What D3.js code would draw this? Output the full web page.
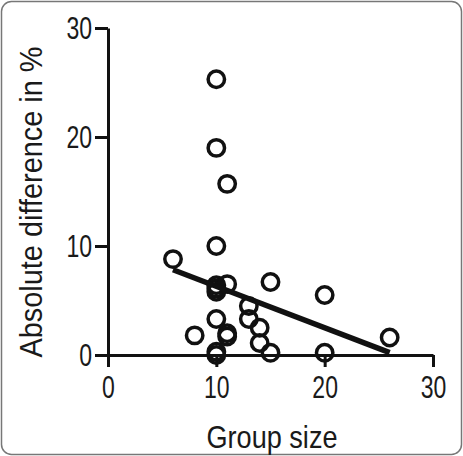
<!DOCTYPE html>
<html><head><meta charset="utf-8">
<script src="https://cdn.jsdelivr.net/npm/d3@7"></script>
<style>body{margin:0;background:#fff}svg{display:block}</style>
</head><body>
<svg id="c" width="463" height="456"></svg>
<script>
const groupSize = [10,10,11,10,6,10,10,10,11,15,20,13,13,10,14,11,11,8,14,15,10,10,20,26];
const absDiff   = [25.3,19.0,15.7,10.0,8.8,6.4,6.1,5.8,6.5,6.7,5.5,4.5,3.3,3.3,2.5,2.0,1.7,1.8,1.1,0.2,0.0,0.3,0.2,1.6];
const fitRange = [6, 26];
const fitIntercept = 10.1, fitSlope = -0.38;
const xTicks = [0,10,20,30];
const yTicks = [0,10,20,30];

const svg = d3.select("#c");
const font = "'Liberation Sans',Arial,sans-serif";
svg.append("rect").attr("x",1.5).attr("y",1.5).attr("width",460).attr("height",453)
  .attr("rx",10).attr("fill","#fff").attr("stroke","#777").attr("stroke-width",1.5);

const x = d3.scaleLinear().domain([0,30]).range([108,433]);
const y = d3.scaleLinear().domain([0,30]).range([355,28]);

const gx = svg.append("g").attr("transform","translate(0,355)")
  .call(d3.axisBottom(x).tickValues(xTicks).tickSize(12).tickSizeOuter(0).tickPadding(9));
const gy = svg.append("g").attr("transform","translate(108,0)")
  .call(d3.axisLeft(y).tickValues(yTicks).tickSize(13).tickSizeOuter(0).tickPadding(3));
[gx,gy].forEach(g=>{
  g.select(".domain").attr("stroke","#111").attr("stroke-width",3);
  g.selectAll(".tick line").attr("stroke","#111").attr("stroke-width",3);
  g.selectAll(".tick text").attr("fill","#1a1a1a").style("font-family",font).style("font-size","31.5px")
    .attr("textLength",function(){return this.textContent.length*12.8;})
    .attr("lengthAdjust","spacingAndGlyphs");
});

const pts = groupSize.map((g,i)=>[g,absDiff[i]]);
svg.append("g").selectAll("circle").data(pts).join("circle")
  .attr("cx",d=>x(d[0])).attr("cy",d=>y(d[1])).attr("r",8.2)
  .attr("fill","none").attr("stroke","#111").attr("stroke-width",3.5);

svg.append("line")
  .attr("x1",x(fitRange[0])).attr("y1",y(fitIntercept+fitSlope*fitRange[0]))
  .attr("x2",x(fitRange[1])).attr("y2",y(fitIntercept+fitSlope*fitRange[1]))
  .attr("stroke","#111").attr("stroke-width",5.5);

svg.append("text").attr("x",272).attr("y",448).attr("text-anchor","middle")
  .style("font-family",font).style("font-size","31.5px").attr("fill","#1a1a1a")
  .attr("textLength",131).attr("lengthAdjust","spacingAndGlyphs").text("Group size");
svg.append("text").attr("transform","translate(42,202) rotate(-90)").attr("text-anchor","middle")
  .style("font-family",font).style("font-size","31.5px").attr("fill","#1a1a1a")
  .attr("textLength",311).attr("lengthAdjust","spacingAndGlyphs").text("Absolute difference in %");
</script>
</body></html>
